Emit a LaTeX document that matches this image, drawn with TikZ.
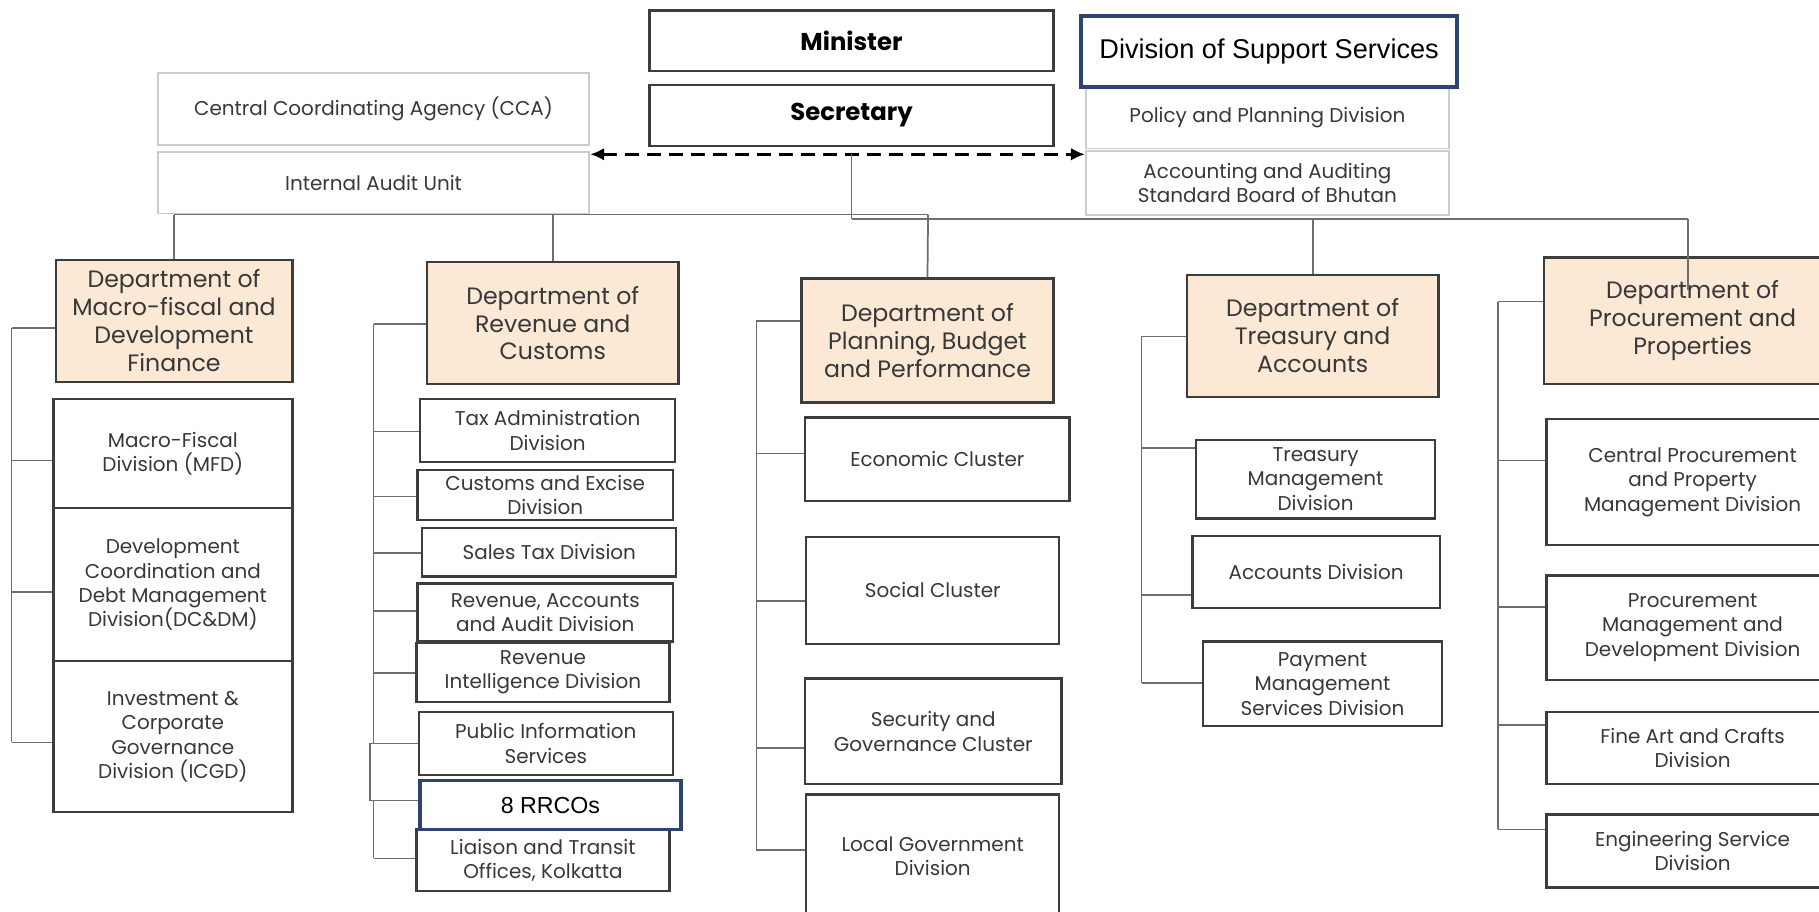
\documentclass[tikz,border=0pt]{standalone}
\usepackage{fontspec}
\setmainfont{Poppins}
\newfontfamily\arialf{Liberation Sans}
\usetikzlibrary{arrows.meta}
\definecolor{boxdraw}{HTML}{3D3D3D}
\definecolor{conncol}{HTML}{6E6E6E}
\definecolor{lightcol}{HTML}{CCCCCC}
\definecolor{deptfill}{HTML}{FBE8D5}
\definecolor{navycol}{HTML}{2E4470}
\definecolor{textcol}{HTML}{383838}
\newcommand\ob[7]{\node[#6, minimum width={(#4-#2)*0.5pt}, minimum height={(#5-#3)*0.5pt}] (#1) at ({(#2+#4)/2},{(#3+#5)/2}) {#7};}
\tikzset{
  basebox/.style={rectangle, inner sep=0pt, align=center, text=textcol},
  dept/.style={basebox, draw=boxdraw, fill=deptfill, line width=1pt, font=\fontsize{10.2}{12}\selectfont},
  sub/.style={basebox, draw=boxdraw, fill=white, line width=1pt, font=\fontsize{8.6}{10.5}\selectfont},
  light/.style={basebox, draw=lightcol, fill=white, line width=0.8pt, font=\fontsize{8.6}{10.5}\selectfont},
  topbox/.style={basebox, draw=boxdraw, fill=white, line width=1pt, text=black, font=\bfseries\fontsize{10.5}{12}\selectfont},
  navy/.style={basebox, draw=navycol, fill=white, line width=1.5pt, text=black},
  conn/.style={draw=conncol, line width=0.75pt},
}
\begin{document}
\begin{tikzpicture}[x=0.5pt,y=-0.5pt]
\useasboundingbox (0,0) rectangle (1568,786);
\clip (0,0) rectangle (1568,786);
\fill[white] (0,0) rectangle (1568,786);

\coordinate (busL) at (150,185);
\coordinate (busLend) at (800,185);
\coordinate (busR) at (735,189);
\coordinate (busRend) at (1455,189);

% ---- top boxes ----
\ob{Min}{560}{9}{908}{61}{topbox}{Minister}
\ob{Sec}{560}{73}{908}{126}{topbox}{Secretary}
\ob{CCA}{136}{63}{508}{125}{light}{Central Coordinating Agency (CCA)}
\ob{IAU}{136}{131}{508}{184}{light}{Internal Audit Unit}
\ob{PPD}{936}{75}{1249}{128}{light}{\raisebox{2.3pt}{Policy and Planning Division}}
\ob{AAS}{936}{130}{1249}{185}{light}{Accounting and Auditing\\Standard Board of Bhutan}
\ob{DSS}{932}{14}{1256}{75}{navy, font=\arialf\fontsize{11.7}{13}\selectfont}{\raisebox{-0.8pt}{Division of Support Services}}

\draw[line width=1.2pt, dash pattern=on 6pt off 3.5pt, {Latex[length=6pt,width=5.5pt]}-{Latex[length=6pt,width=5.5pt]}]
  (IAU.north east |- 0,133) -- (AAS.north west |- 0,133);
\draw[conn] (Sec.south |- 0,133) -- (Sec.south |- busR);
\draw[conn] (busL) -- (busLend);
\draw[conn] (Sec.south |- busR) -- (busRend);

% ---- departments ----
\ob{D1}{48}{224}{252}{329}{dept}{Department of\\Macro-fiscal and\\Development\\Finance}
\ob{D2}{368}{226}{585}{331}{dept}{Department of\\Revenue and\\Customs}
\ob{D3}{691}{240}{908}{347}{dept}{Department of\\Planning, Budget\\and Performance}
\ob{D4}{1023}{237}{1240}{342}{dept}{Department of\\Treasury and\\Accounts}
\ob{D5}{1331}{222}{1587}{331}{dept}{Department of\\Procurement and\\Properties}

\draw[conn] (busL) -- (D1.north);
\draw[conn] (D2.north |- busL) -- (D2.north);
\draw[conn] (busLend) -- (D3.north);
\draw[conn] (D4.north |- busR) -- (D4.north);
\draw[conn] (busRend) -- (1455,250);

% ---- column 1 ----
\ob{MFD}{46}{344}{252}{438}{sub}{Macro-Fiscal\\Division (MFD)}
\ob{DCDM}{46}{438}{252}{570}{sub}{Development\\Coordination and\\Debt Management\\Division(DC\&DM)}
\ob{ICGD}{46}{570}{252}{700}{sub}{Investment \&\\Corporate\\Governance\\Division (ICGD)}
\draw[conn] (10,283) -- (10,640);
\draw[conn] (10,283) -- (D1.west |- 10,283);
\draw[conn] (10,397) -- (MFD.west |- 10,397);
\draw[conn] (10,510) -- (DCDM.west |- 10,510);
\draw[conn] (10,640) -- (ICGD.west |- 10,640);

% ---- column 2 ----
\ob{TAD}{362}{344}{582}{398}{sub}{Tax Administration\\Division}
\ob{CED}{360}{405}{580}{448}{sub}{Customs and Excise\\Division}
\ob{STD}{364}{455}{583}{497}{sub}{Sales Tax Division}
\ob{RAAD}{360}{503}{580}{553}{sub}{Revenue, Accounts\\and Audit Division}
\ob{RID}{359}{554}{577}{605}{sub}{Revenue\\Intelligence Division}
\ob{PIS}{361}{614}{580}{668}{sub}{Public Information\\Services}
\ob{LTO}{359}{715}{577}{768}{sub}{Liaison and Transit\\Offices, Kolkatta}
\ob{RRCO}{362}{673}{587}{715}{navy, font=\arialf\fontsize{10}{12}\selectfont}{8 RRCOs}
\draw[conn] (322,279) -- (322,641) -- (319,641) -- (319,690) -- (322,690) -- (322,740);
\draw[conn] (322,279) -- (D2.west |- 322,279);
\draw[conn] (322,372) -- (TAD.west |- 322,372);
\draw[conn] (322,428) -- (CED.west |- 322,428);
\draw[conn] (322,477) -- (STD.west |- 322,477);
\draw[conn] (322,527) -- (RAAD.west |- 322,527);
\draw[conn] (322,580) -- (RID.west |- 322,580);
\draw[conn] (319,641) -- (PIS.west |- 319,641);
\draw[conn] (319,690) -- (RRCO.west |- 319,690);
\draw[conn] (322,740) -- (LTO.west |- 322,740);

% ---- column 3 ----
\ob{ECO}{694}{360}{922}{432}{sub}{Economic Cluster}
\ob{SOC}{695}{463}{913}{555}{sub}{Social Cluster}
\ob{SEC}{694}{585}{915}{676}{sub}{Security and\\Governance Cluster}
\ob{LGD}{695}{685}{913}{791}{sub}{Local Government\\Division}
\draw[conn] (652,277) -- (652,733);
\draw[conn] (652,277) -- (D3.west |- 652,277);
\draw[conn] (652,391) -- (ECO.west |- 652,391);
\draw[conn] (652,518) -- (SOC.west |- 652,518);
\draw[conn] (652,645) -- (SEC.west |- 652,645);
\draw[conn] (652,733) -- (LGD.west |- 652,733);

% ---- column 4 ----
\ob{TMD}{1031}{379}{1237}{447}{sub}{Treasury\\Management\\Division}
\ob{AD}{1028}{462}{1241}{524}{sub}{Accounts Division}
\ob{PMSD}{1037}{553}{1243}{626}{sub}{Payment\\Management\\Services Division}
\draw[conn] (984,290) -- (984,589);
\draw[conn] (984,290) -- (D4.west |- 984,290);
\draw[conn] (984,386) -- (TMD.west |- 984,386);
\draw[conn] (984,513) -- (AD.west |- 984,513);
\draw[conn] (984,589) -- (PMSD.west |- 984,589);

% ---- column 5 ----
\ob{CPPMD}{1333}{361}{1585}{470}{sub}{Central Procurement\\and Property\\Management Division}
\ob{PMDD}{1333}{496}{1585}{586}{sub}{Procurement\\Management and\\Development Division}
\ob{FACD}{1333}{614}{1585}{676}{sub}{Fine Art and Crafts\\Division}
\ob{ESD}{1333}{702}{1585}{765}{sub}{Engineering Service\\Division}
\draw[conn] (1291,260) -- (1291,715);
\draw[conn] (1291,260) -- (D5.west |- 1291,260);
\draw[conn] (1291,397) -- (CPPMD.west |- 1291,397);
\draw[conn] (1291,523) -- (PMDD.west |- 1291,523);
\draw[conn] (1291,625) -- (FACD.west |- 1291,625);
\draw[conn] (1291,715) -- (ESD.west |- 1291,715);
\end{tikzpicture}
\end{document}
